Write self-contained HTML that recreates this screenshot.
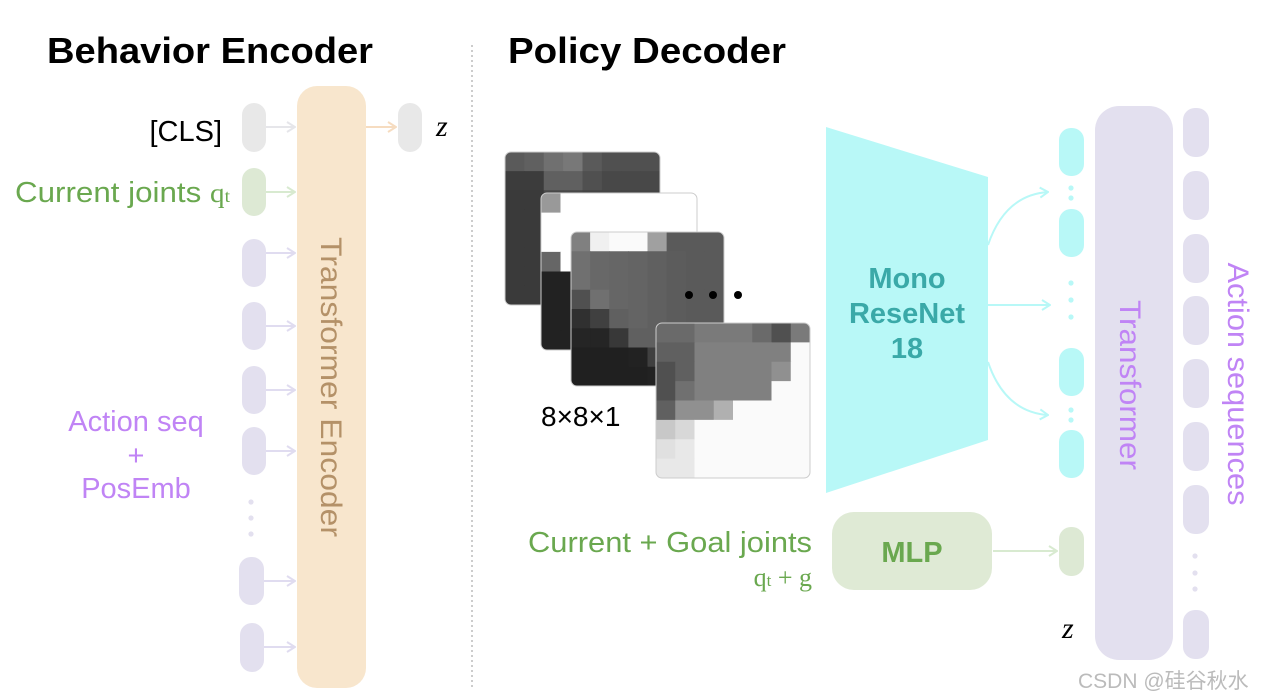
<!DOCTYPE html>
<html><head><meta charset="utf-8"><style>
html,body{margin:0;padding:0;background:#fff;}
svg{display:block;font-family:"Liberation Sans","Noto Sans CJK SC",sans-serif;}
</style></head><body>
<svg width="1270" height="700" viewBox="0 0 1270 700" xmlns="http://www.w3.org/2000/svg">
<defs>
<marker id="ag" markerWidth="10" markerHeight="12" refX="9" refY="6" orient="auto" markerUnits="userSpaceOnUse"><path d="M1,1 L9,6 L1,11" fill="none" stroke="#e6e6ea" stroke-width="2"/></marker>
<marker id="agr" markerWidth="10" markerHeight="12" refX="9" refY="6" orient="auto" markerUnits="userSpaceOnUse"><path d="M1,1 L9,6 L1,11" fill="none" stroke="#d8ead0" stroke-width="2"/></marker>
<marker id="ap" markerWidth="10" markerHeight="12" refX="9" refY="6" orient="auto" markerUnits="userSpaceOnUse"><path d="M1,1 L9,6 L1,11" fill="none" stroke="#e0dcf0" stroke-width="2"/></marker>
<marker id="ao" markerWidth="10" markerHeight="12" refX="9" refY="6" orient="auto" markerUnits="userSpaceOnUse"><path d="M1,1 L9,6 L1,11" fill="none" stroke="#f6dcc0" stroke-width="2"/></marker>
<marker id="ac" markerWidth="10" markerHeight="12" refX="9" refY="6" orient="auto" markerUnits="userSpaceOnUse"><path d="M1,1 L9,6 L1,11" fill="none" stroke="#b8f8f7" stroke-width="2"/></marker>
</defs>

<text x="47" y="63" font-size="36" font-weight="bold" fill="#000" textLength="326" lengthAdjust="spacingAndGlyphs">Behavior Encoder</text>
<text x="508" y="63" font-size="36" font-weight="bold" fill="#000" textLength="278" lengthAdjust="spacingAndGlyphs">Policy Decoder</text>
<line x1="472" y1="45" x2="472" y2="690" stroke="#aaa" stroke-width="1.2" stroke-dasharray="2,3"/>

<!-- Encoder -->
<rect x="297" y="86" width="69" height="602" rx="20" fill="#f8e6cd"/>
<text transform="translate(321,387) rotate(90)" text-anchor="middle" font-size="30" fill="#b49168" textLength="300" lengthAdjust="spacingAndGlyphs">Transformer Encoder</text>

<rect x="242" y="103" width="24" height="49" rx="12" fill="#e8e8e8"/>
<line x1="266" y1="127" x2="295" y2="127" stroke="#e6e6ea" stroke-width="2" marker-end="url(#ag)"/>
<rect x="242" y="168" width="24" height="48" rx="12" fill="#dde9d4"/>
<line x1="266" y1="192" x2="295" y2="192" stroke="#d8ead0" stroke-width="2" marker-end="url(#agr)"/>
<g fill="#e3e0ef">
<rect x="242" y="239" width="24" height="48" rx="12"/>
<rect x="242" y="302" width="24" height="48" rx="12"/>
<rect x="242" y="366" width="24" height="48" rx="12"/>
<rect x="242" y="427" width="24" height="48" rx="12"/>
<rect x="239" y="557" width="25" height="48" rx="12"/>
<rect x="240" y="623" width="24" height="49" rx="12"/>
<circle cx="251" cy="502" r="2.6"/><circle cx="251" cy="518" r="2.6"/><circle cx="251" cy="534" r="2.6"/>
</g>
<g stroke="#e0dcf0" stroke-width="2" marker-end="url(#ap)">
<line x1="266" y1="253" x2="295" y2="253"/>
<line x1="266" y1="326" x2="295" y2="326"/>
<line x1="266" y1="390" x2="295" y2="390"/>
<line x1="266" y1="451" x2="295" y2="451"/>
<line x1="264" y1="581" x2="295" y2="581"/>
<line x1="264" y1="647" x2="295" y2="647"/>
</g>
<rect x="398" y="103" width="24" height="49" rx="12" fill="#e8e8e8"/>
<line x1="366" y1="127" x2="396" y2="127" stroke="#f6dcc0" stroke-width="2" marker-end="url(#ao)"/>
<text x="436" y="136" font-size="30" font-style="italic" font-family="Liberation Serif,serif" fill="#000">z</text>

<text x="222" y="141" font-size="29" text-anchor="end" fill="#000">[CLS]</text>
<text x="15" y="202" font-size="29" fill="#6aa84f" textLength="215" lengthAdjust="spacingAndGlyphs">Current joints <tspan font-family="Liberation Serif,serif" font-size="27">q</tspan><tspan font-family="Liberation Serif,serif" font-size="18">t</tspan></text>
<g font-size="29" fill="#c084f5" text-anchor="middle">
<text x="136" y="431">Action seq</text>
<text x="136" y="465">+</text>
<text x="136" y="498">PosEmb</text>
</g>

<!-- Images -->
<g id="imgs"></g>
<text x="541" y="426" font-size="28" fill="#000">8×8×1</text>
<circle cx="689" cy="295" r="4" fill="#000"/><circle cx="713" cy="295" r="4" fill="#000"/><circle cx="738" cy="295" r="4" fill="#000"/>

<!-- ResNet -->
<polygon points="826,127 988,177 988,440 826,493" fill="#b8f8f7"/>
<g font-size="29" font-weight="bold" fill="#3aa9a8" text-anchor="middle">
<text x="907" y="288">Mono</text>
<text x="907" y="323">ReseNet</text>
<text x="907" y="358">18</text>
</g>
<g fill="none" stroke="#b8f8f7" stroke-width="2" marker-end="url(#ac)">
<path d="M988,245 Q1005,195 1048,192"/>
<line x1="988" y1="305" x2="1050" y2="305"/>
<path d="M988,362 Q1005,412 1048,415"/>
</g>
<g fill="#b8f8f7">
<rect x="1059" y="128" width="25" height="48" rx="12"/>
<rect x="1059" y="209" width="25" height="48" rx="12"/>
<rect x="1059" y="348" width="25" height="48" rx="12"/>
<rect x="1059" y="430" width="25" height="48" rx="12"/>
<circle cx="1071" cy="188" r="2.6"/><circle cx="1071" cy="198" r="2.6"/>
<circle cx="1071" cy="283" r="2.6"/><circle cx="1071" cy="300" r="2.6"/><circle cx="1071" cy="317" r="2.6"/>
<circle cx="1071" cy="410" r="2.6"/><circle cx="1071" cy="420" r="2.6"/>
</g>

<!-- MLP -->
<rect x="832" y="512" width="160" height="78" rx="22" fill="#dfead5"/>
<text x="912" y="562" font-size="29" font-weight="bold" fill="#6aa84f" text-anchor="middle">MLP</text>
<line x1="993" y1="551" x2="1057" y2="551" stroke="#d8ead0" stroke-width="2" marker-end="url(#agr)"/>
<rect x="1059" y="527" width="25" height="49" rx="12" fill="#dde9d4"/>
<text x="812" y="552" font-size="29" fill="#6aa84f" text-anchor="end" textLength="284" lengthAdjust="spacingAndGlyphs">Current + Goal joints</text>
<text x="812" y="586" font-size="26" fill="#6aa84f" text-anchor="end" font-family="Liberation Serif,serif">q<tspan font-size="17">t</tspan> + g</text>
<text x="1062" y="638" font-size="30" font-style="italic" font-family="Liberation Serif,serif" fill="#000">z</text>

<!-- Transformer -->
<rect x="1095" y="106" width="78" height="554" rx="24" fill="#e3e0ef"/>
<text transform="translate(1120,385) rotate(90)" text-anchor="middle" font-size="30" fill="#c084f5" textLength="170" lengthAdjust="spacingAndGlyphs">Transformer</text>
<g fill="#e3e0ef">
<rect x="1183" y="108" width="26" height="49" rx="12"/>
<rect x="1183" y="171" width="26" height="49" rx="12"/>
<rect x="1183" y="234" width="26" height="49" rx="12"/>
<rect x="1183" y="296" width="26" height="49" rx="12"/>
<rect x="1183" y="359" width="26" height="49" rx="12"/>
<rect x="1183" y="422" width="26" height="49" rx="12"/>
<rect x="1183" y="485" width="26" height="49" rx="12"/>
<rect x="1183" y="610" width="26" height="49" rx="12"/>
<circle cx="1195" cy="556" r="2.6"/><circle cx="1195" cy="573" r="2.6"/><circle cx="1195" cy="589" r="2.6"/>
</g>
<text transform="translate(1228,384) rotate(90)" text-anchor="middle" font-size="30" fill="#c084f5" textLength="243" lengthAdjust="spacingAndGlyphs">Action sequences</text>

<text x="1078" y="688" font-size="21" fill="#bbb">CSDN @硅谷秋水</text>
</svg>
<script>
(function(){
var NS="http://www.w3.org/2000/svg",g=document.getElementById("imgs");
function frame(x,y,w,h,rows,id){
  var cp=document.createElementNS(NS,"clipPath");cp.id=id;
  var r=document.createElementNS(NS,"rect");r.setAttribute("x",x);r.setAttribute("y",y);r.setAttribute("width",w);r.setAttribute("height",h);r.setAttribute("rx",6);
  cp.appendChild(r);g.appendChild(cp);
  var gg=document.createElementNS(NS,"g");gg.setAttribute("clip-path","url(#"+id+")");
  var cw=w/8,ch=h/8;
  for(var i=0;i<8;i++)for(var j=0;j<8;j++){
    var c=document.createElementNS(NS,"rect");
    c.setAttribute("x",x+j*cw);c.setAttribute("y",y+i*ch);c.setAttribute("width",cw+0.6);c.setAttribute("height",ch+0.6);
    c.setAttribute("fill","#"+rows[i][j]+rows[i][j]+rows[i][j]);gg.appendChild(c);
  }
  g.appendChild(gg);
  var b=document.createElementNS(NS,"rect");b.setAttribute("x",x);b.setAttribute("y",y);b.setAttribute("width",w);b.setAttribute("height",h);b.setAttribute("rx",6);
  b.setAttribute("fill","none");b.setAttribute("stroke","#ccc");b.setAttribute("stroke-width","1");g.appendChild(b);
}
function R(s){return s.split(" ");}
frame(505,152,155,153,[
R("5a 60 70 78 5a 50 50 50"),R("3c 3c 60 60 50 48 48 48"),R("3a 3a 48 48 44 44 44 44"),R("3a 3a 44 44 44 44 44 44"),
R("3a 3a 40 40 44 44 44 44"),R("3a 3a 40 40 44 44 44 44"),R("3a 3a 40 40 40 40 40 40"),R("3a 3a 3c 3c 3c 3c 3c 3c")],"c1");
frame(541,193,156,157,[
R("99 ff ff ff ff ff ff ff"),R("ff ff ff ff ff ff ff ff"),R("ff ff ff ff ff ff ff ff"),R("66 ff ff ff ff ff ff ff"),
R("22 22 ff ff ff ff ff ff"),R("22 22 ff ff ff ff ff ff"),R("22 22 22 22 ff ff ff ff"),R("22 22 22 22 22 22 22 22")],"c2");
frame(571,232,153,154,[
R("80 f0 fa fa a0 5a 5a 5a"),R("70 68 66 64 60 5c 5a 5a"),R("70 68 66 64 60 5c 5a 5a"),R("50 70 66 64 60 5c 5a 5a"),
R("30 40 60 64 60 5c 5a 5a"),R("25 25 38 60 60 5c 5a 5a"),R("20 20 20 22 40 50 5a 5a"),R("20 20 20 20 22 30 48 5a")],"c3");
frame(656,323,154,155,[
R("6a 6a 7a 7a 7a 6a 50 7a"),R("60 60 80 80 80 80 80 fa"),R("50 60 80 80 80 80 90 fa"),R("50 70 80 80 80 80 fa fa"),
R("60 90 90 b0 fa fa fa fa"),R("c8 d8 fa fa fa fa fa fa"),R("e0 e8 fa fa fa fa fa fa"),R("e8 e8 fa fa fa fa fa fa")],"c4");
})();
</script>
</body></html>
